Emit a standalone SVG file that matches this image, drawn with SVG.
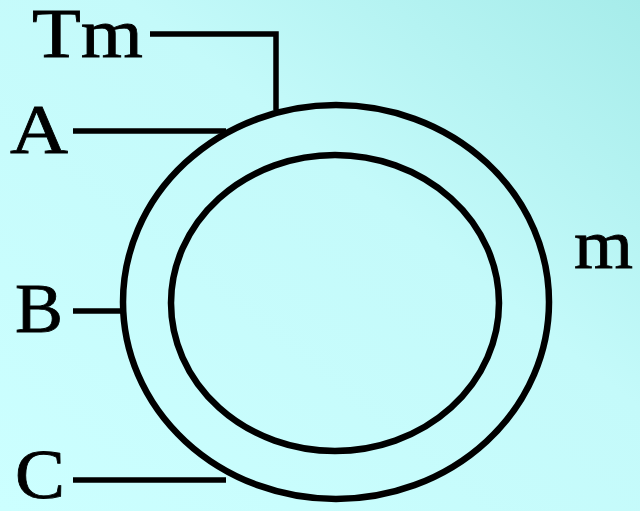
<svg xmlns="http://www.w3.org/2000/svg" width="640" height="511" viewBox="0 0 640 511">
<defs>
<linearGradient id="bg" x1="0" y1="1" x2="1" y2="0">
<stop offset="0" stop-color="#ccffff"/>
<stop offset="0.6" stop-color="#c4fafa"/>
<stop offset="1" stop-color="#a6ecea"/>
</linearGradient>
<style>
.ln{stroke:#000;stroke-width:5.5;fill:none}
.ring{stroke:#000;stroke-width:6.5;fill:none}
</style>
</defs>
<rect width="640" height="511" fill="url(#bg)"/>
<g id="rotor">
<ellipse class="ring" cx="336" cy="302" rx="213" ry="197"/>
<ellipse class="ring" cx="335" cy="303" rx="164" ry="148"/>
</g>
<g id="connectors">
<polyline class="ln" points="150,34 276,34 276,110"/>
<line class="ln" x1="73" y1="131" x2="226" y2="131"/>
<line class="ln" x1="73" y1="311" x2="124" y2="311"/>
<line class="ln" x1="73" y1="480" x2="226" y2="480"/>
</g>
<g font-family="Liberation Serif, Times New Roman, serif" font-size="70" fill="#000" stroke="#000" stroke-width="0.8">
<g id="Tm"><text x="32" y="57" textLength="111" lengthAdjust="spacingAndGlyphs">Tm</text></g>
<g id="A"><text x="10" y="153" textLength="58" lengthAdjust="spacingAndGlyphs">A</text></g>
<g id="B"><text x="15" y="332" textLength="48" lengthAdjust="spacingAndGlyphs">B</text></g>
<g id="C"><text x="15" y="498" textLength="50" lengthAdjust="spacingAndGlyphs">C</text></g>
<g id="m"><text x="574" y="268" textLength="59" lengthAdjust="spacingAndGlyphs">m</text></g>
</g>
</svg>
